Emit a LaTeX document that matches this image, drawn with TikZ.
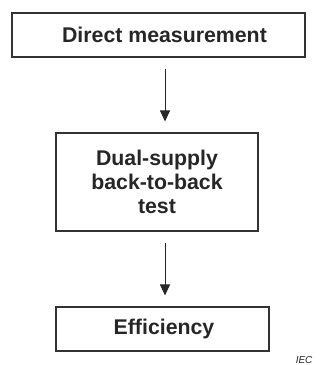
\documentclass[tikz,border=0pt]{standalone}
\usepackage{fontspec}
\setmainfont{Liberation Sans}
\usetikzlibrary{arrows.meta}

\begin{document}
\begin{tikzpicture}[x=1pt,y=-1pt,
    stage/.style={draw=black!80,line width=1.1pt,inner sep=0pt,align=center,
      font=\fontsize{21.3}{24}\selectfont\bfseries,text=black!85},
    flow/.style={draw=black!85,line width=1pt,-{Triangle[length=11pt,width=10pt]},
      shorten <=11pt,shorten >=11pt}]
  \useasboundingbox (0,0) rectangle (320,365);
  \node[stage,minimum width=293pt,minimum height=44pt] (measure) at (158.5,35) {\hspace*{12pt}Direct measurement};
  \node[stage,minimum width=202pt,minimum height=98pt] (backtoback) at (157,182) {Dual-supply\\back-to-back\\test};
  \node[stage,minimum width=213pt,minimum height=44pt] (efficiency) at (162.5,329) {\hspace*{3pt}Efficiency};
  \coordinate (axis) at (165,0);
  \draw[flow] (measure.south -| axis) -- (backtoback.north -| axis);
  \draw[flow] (backtoback.south -| axis) -- (efficiency.north -| axis);
  \node[anchor=base east,font=\fontsize{10}{12}\selectfont\itshape,text=black!85] (iec) at (316,363) {IEC};
\end{tikzpicture}
\end{document}
